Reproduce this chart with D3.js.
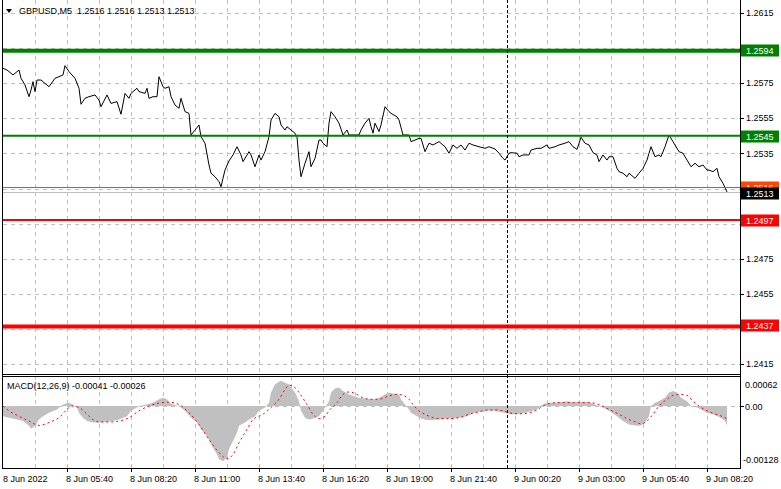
<!DOCTYPE html>
<html><head><meta charset="utf-8">
<script src="https://cdn.jsdelivr.net/npm/d3@7"></script>
<style>
body{margin:0;background:#fff}
svg{display:block}
text{font-family:"Liberation Sans",Arial,sans-serif;font-size:9px;fill:#000}
</style></head>
<body><svg id="c" width="781" height="489"></svg>
<script>
// ---------- DATA ----------
const symbolTitle = "GBPUSD,M5  1.2516 1.2516 1.2513 1.2513";
const macdTitle = "MACD(12,26,9) -0.00041 -0.00026";

// bar offsets (5-minute bars from 8 Jun 2022 03:00) and close prices
const priceBars = [
  0,2,3,5,6,8,9,11,13,14, 15,16,17,19,23,26,28,30,31,33,
  36,38,39,41,43,46,48,49,52,54, 57,59,61,63,64,67,68,71,72,73,
  75,77,78,80,81,83,84,86,88,89, 91,93,94,96,98,99,101,103,104,106,
  108,109,110,111,113,115,117,119,120,123, 124,126,128,129,131,133,134,136,138,139,
  141,142,144,146,147,148,149,151,153,154, 156,158,159,160,162,163,164,166,168,170,
  172,173,178,179,181,183,184,185,186,188, 189,191,193,194,197,198,200,203,204,206,
  208,209,211,213,215,218,221,223,225,227, 229,231,233,235,238,241,243,246,248,250,
  251,253,254,257,258,260,263,264,267,269, 272,273,276,278,281,283,285,287,289,291,
  293,295,297,298,300,302,303,305,307,308, 310,312,313,316,318,320,322,323,324,326,
  328,329,331,333,335,336,338,340,342,344, 346,348,350,352,353,355,357,358,360,362
];
const closes = [
  1.25835,1.25825,1.25816,1.25797,1.25806,1.25825,1.25778,1.25740,1.25673,1.25711,
  1.25759,1.25702,1.25768,1.25768,1.25730,1.25778,1.25787,1.25797,1.25850,1.25816,
  1.25778,1.25721,1.25630,1.25664,1.25673,1.25683,1.25654,1.25616,1.25683,1.25635,
  1.25645,1.25573,1.25692,1.25664,1.25692,1.25721,1.25702,1.25692,1.25721,1.25664,
  1.25673,1.25673,1.25787,1.25730,1.25721,1.25730,1.25673,1.25626,1.25607,1.25664,
  1.25588,1.25578,1.25455,1.25483,1.25512,1.25445,1.25408,1.25284,1.25237,1.25217,
  1.25189,1.25160,1.25208,1.25255,1.25307,1.25341,1.25388,1.25341,1.25303,1.25360,
  1.25341,1.25274,1.25341,1.25312,1.25360,1.25445,1.25540,1.25578,1.25559,1.25512,
  1.25483,1.25502,1.25483,1.25465,1.25445,1.25312,1.25217,1.25294,1.25360,1.25274,
  1.25322,1.25426,1.25426,1.25408,1.25388,1.25522,1.25588,1.25559,1.25522,1.25455,
  1.25483,1.25455,1.25455,1.25483,1.25522,1.25550,1.25502,1.25465,1.25522,1.25474,
  1.25512,1.25616,1.25588,1.25578,1.25559,1.25540,1.25455,1.25455,1.25417,1.25426,
  1.25436,1.25436,1.25360,1.25408,1.25398,1.25417,1.25388,1.25351,1.25398,1.25379,
  1.25398,1.25369,1.25408,1.25398,1.25388,1.25379,1.25388,1.25375,1.25351,1.25322,
  1.25312,1.25351,1.25354,1.25351,1.25331,1.25341,1.25341,1.25369,1.25379,1.25379,
  1.25398,1.25379,1.25388,1.25398,1.25408,1.25417,1.25388,1.25373,1.25442,1.25408,
  1.25398,1.25354,1.25341,1.25303,1.25341,1.25312,1.25331,1.25331,1.25265,1.25246,
  1.25237,1.25217,1.25237,1.25208,1.25237,1.25265,1.25312,1.25351,1.25388,1.25331,
  1.25341,1.25331,1.25388,1.25455,1.25417,1.25398,1.25360,1.25351,1.25312,1.25274,
  1.25294,1.25274,1.25284,1.25255,1.25255,1.25246,1.25265,1.25217,1.25180,1.25130
];

// MACD histogram (main line) key points
const macdBars = [
  0,3,7,10,13,14,16,18,20,23, 27,30,33,35,37,38,40,42,45,48,
  52,55,58,62,64,67,68,72,75,78, 80,82,83,85,87,89,92,94,97,99,
  102,104,107,108,110,112,113,115,117,118, 121,123,126,128,131,133,134,136,138,139,
  141,143,144,146,148,149,151,153,155,158, 160,163,164,166,168,170,173,175,178,182,
  185,187,190,193,195,198,199,201,203,204, 207,209,212,215,218,222,225,228,232,235,
  238,242,245,248,252,254,257,260,263,267, 269,272,275,278,282,285,288,292,294,297,
  300,303,307,310,313,317,319,321,323,324, 326,328,331,333,335,337,339,342,344,347,
  349,352,355,358,361,362
];
const macdValues = [
  -0.00021,-0.00024,-0.00028,-0.00031,-0.00041,-0.00047,-0.00041,-0.00028,-0.00021,-0.00014,
  -0.00007,0.00003,0.00007,0.00003,-0.00003,-0.00014,-0.00024,-0.00031,-0.00034,-0.00034,
  -0.00033,-0.00031,-0.00028,-0.00021,-0.00010,-0.00003,0.00000,0.00003,0.00007,0.00014,
  0.00017,0.00014,0.00007,0.00003,0.00001,-0.00003,-0.00014,-0.00024,-0.00034,-0.00048,
  -0.00062,-0.00079,-0.00100,-0.00110,-0.00114,-0.00107,-0.00089,-0.00072,-0.00055,-0.00041,
  -0.00034,-0.00028,-0.00021,-0.00010,-0.00003,0.00007,0.00028,0.00045,0.00050,0.00052,
  0.00048,0.00045,0.00038,0.00028,0.00010,-0.00010,-0.00024,-0.00028,-0.00026,-0.00021,
  -0.00010,0.00010,0.00028,0.00036,0.00038,0.00031,0.00024,0.00021,0.00017,0.00015,
  0.00014,0.00015,0.00021,0.00028,0.00026,0.00024,0.00014,0.00003,-0.00007,-0.00014,
  -0.00021,-0.00026,-0.00029,-0.00029,-0.00028,-0.00026,-0.00026,-0.00024,-0.00021,-0.00015,
  -0.00012,-0.00010,-0.00010,-0.00012,-0.00015,-0.00017,-0.00017,-0.00015,-0.00012,-0.00007,
  0.00001,0.00007,0.00007,0.00008,0.00010,0.00008,0.00009,0.00009,0.00007,0.00001,
  -0.00003,-0.00010,-0.00021,-0.00031,-0.00038,-0.00041,-0.00040,-0.00034,-0.00021,0.00000,
  0.00007,0.00010,0.00017,0.00028,0.00031,0.00028,0.00017,0.00010,0.00000,-0.00003,
  -0.00007,-0.00014,-0.00017,-0.00022,-0.00031,-0.00041
];

// MACD signal line key points
const signalBars = [
  0,3,8,13,18,23,28,32,34,38, 42,45,48,53,58,63,68,73,78,83,
  88,93,98,103,108,112,115,118,122,125, 130,134,138,141,143,146,148,152,155,158,
  161,163,167,170,173,177,180,183,188,193, 197,200,203,205,208,212,215,218,223,228,
  233,238,243,247,250,253,257,260,263,267, 270,273,278,283,288,293,298,303,308,313,
  317,319,322,325,328,332,335,338,342,345, 348,352,355,358,362
];
const signalValues = [
  0.00000,-0.00010,-0.00021,-0.00031,-0.00040,-0.00034,-0.00024,-0.00007,0.00000,-0.00003,
  -0.00017,-0.00028,-0.00033,-0.00033,-0.00031,-0.00024,-0.00010,0.00000,0.00006,0.00008,
  0.00003,-0.00014,-0.00038,-0.00069,-0.00096,-0.00109,-0.00100,-0.00076,-0.00048,-0.00028,
  -0.00017,-0.00003,0.00014,0.00034,0.00043,0.00038,0.00028,0.00003,-0.00017,-0.00026,
  -0.00021,-0.00010,0.00007,0.00024,0.00029,0.00024,0.00017,0.00014,0.00014,0.00021,
  0.00024,0.00022,0.00014,0.00003,-0.00010,-0.00019,-0.00024,-0.00026,-0.00026,-0.00024,
  -0.00017,-0.00012,-0.00008,-0.00008,-0.00010,-0.00014,-0.00016,-0.00016,-0.00014,-0.00008,
  0.00000,0.00005,0.00007,0.00007,0.00007,0.00007,0.00003,-0.00007,-0.00017,-0.00028,
  -0.00034,-0.00037,-0.00031,-0.00017,0.00000,0.00014,0.00022,0.00024,0.00022,0.00010,
  0.00000,-0.00010,-0.00015,-0.00019,-0.00026
];

// price scale ticks and time axis ticks
const priceTicks = [1.2415,1.2435,1.2455,1.2475,1.2495,1.2515,1.2535,1.2555,1.2575,1.2595,1.2615];
const macdTicks = [0.00062, 0.00, -0.00128];
const macdTickLabels = ["0.00062", "0.00", "-0.00128"];
const timeTickBars = [0,32,64,96,128,160,192,224,256,288,320,352];
const timeTickLabels = ["8 Jun 2022","8 Jun 05:40","8 Jun 08:20","8 Jun 11:00","8 Jun 13:40","8 Jun 16:20",
  "8 Jun 19:00","8 Jun 21:40","9 Jun 00:20","9 Jun 03:00","9 Jun 05:40","9 Jun 08:20"];
const daySeparatorBar = 252;

// horizontal levels
const levelPrices = [1.2594, 1.2545, 1.2497, 1.2437];
const levelColors = ["#008000", "#008000", "#ff0000", "#ff0000"];
const levelWidths = [4, 2, 2, 4];
const bidPrice = 1.2516, askPrice = 1.2513;

// ---------- CHART ----------
const svg = d3.select("#c");
const L = 3, R = 740;
const mainTop = 0, mainBot = 374, macdTop = 376, macdBot = 468;
const t0 = new Date(2022, 5, 8, 3, 0);
const barTime = i => new Date(t0.getTime() + i * 300000);
const x = d3.scaleTime().domain([t0, barTime(362)]).range([3, 727]);
const y = d3.scaleLinear().domain([1.2415, 1.2615]).range([364, 13]);
const ym = d3.scaleLinear().domain([-0.00128, 0.00062]).range([macdBot, macdTop]);
const GRID = "#c0c0c0";

// vertical grid lines every 16 bars
const vgrid = d3.range(16, 368, 16).filter(i => x(barTime(i)) < R - 1);
[[mainTop, mainBot], [macdTop, macdBot]].forEach(([a, b]) => {
  svg.append("g").selectAll("line").data(vgrid).join("line")
    .attr("x1", i => Math.round(x(barTime(i))) + 0.5).attr("x2", i => Math.round(x(barTime(i))) + 0.5)
    .attr("y1", a).attr("y2", b)
    .attr("stroke", GRID).attr("stroke-dasharray", "4,4");
});
// horizontal grid main
svg.append("g").selectAll("line").data(priceTicks).join("line")
  .attr("x1", L).attr("x2", R)
  .attr("y1", d => Math.round(y(d)) + 0.5).attr("y2", d => Math.round(y(d)) + 0.5)
  .attr("stroke", GRID).attr("stroke-dasharray", "4,4");
// macd zero grid
svg.append("line").attr("x1", L).attr("x2", R)
  .attr("y1", Math.round(ym(0)) + 0.5).attr("y2", Math.round(ym(0)) + 0.5)
  .attr("stroke", GRID).attr("stroke-dasharray", "4,4");

// price line
const pts = priceBars.map((b, k) => ({t: barTime(b), v: closes[k]}));
svg.append("path").datum(pts)
  .attr("d", d3.line().x(d => x(d.t)).y(d => y(d.v)))
  .attr("fill", "none").attr("stroke", "#000").attr("stroke-width", 1);

// bid / ask lines
svg.append("line").attr("x1", L).attr("x2", R)
  .attr("y1", Math.round(y(askPrice)) + 0.5).attr("y2", Math.round(y(askPrice)) + 0.5)
  .attr("stroke", "#c0c0c0");
svg.append("line").attr("x1", L).attr("x2", R)
  .attr("y1", Math.round(y(bidPrice)) + 0.5).attr("y2", Math.round(y(bidPrice)) + 0.5)
  .attr("stroke", "#ff4500");

// levels
svg.append("g").selectAll("line").data(levelPrices).join("line")
  .attr("x1", L).attr("x2", R)
  .attr("y1", (d, i) => y(d) + (levelWidths[i] > 2 ? 1 : 0)).attr("y2", (d, i) => y(d) + (levelWidths[i] > 2 ? 1 : 0))
  .attr("stroke", (d, i) => levelColors[i]).attr("stroke-width", (d, i) => levelWidths[i]);

// MACD histogram
const hist = macdBars.map((b, k) => ({t: barTime(b), v: macdValues[k]}));
svg.append("path").datum(hist)
  .attr("d", d3.area().x(d => x(d.t)).y0(ym(0)).y1(d => ym(d.v)))
  .attr("fill", "#c0c0c0");
// signal line
const sig = signalBars.map((b, k) => ({t: barTime(b), v: signalValues[k]}));
svg.append("path").datum(sig)
  .attr("d", d3.line().curve(d3.curveMonotoneX).x(d => x(d.t)).y(d => ym(d.v)))
  .attr("fill", "none").attr("stroke", "#ff0000").attr("stroke-width", 1).attr("stroke-dasharray", "2,3");

// day separator
const sx = Math.round(x(barTime(daySeparatorBar))) + 0.5;
svg.append("line").attr("x1", sx).attr("x2", sx).attr("y1", mainTop).attr("y2", macdBot)
  .attr("stroke", "#000").attr("stroke-dasharray", "3,2");

// frames
const frame = svg.append("g").attr("stroke", "#000").attr("fill", "none");
frame.append("line").attr("x1", 2.5).attr("x2", 2.5).attr("y1", 0).attr("y2", macdBot + 1);
frame.append("line").attr("x1", R + 0.5).attr("x2", R + 0.5).attr("y1", 0).attr("y2", macdBot + 1);
frame.append("line").attr("x1", 2).attr("x2", R + 1).attr("y1", mainBot + 0.5).attr("y2", mainBot + 0.5);
frame.append("line").attr("x1", 2).attr("x2", R + 1).attr("y1", macdTop + 0.5).attr("y2", macdTop + 0.5);
frame.append("line").attr("x1", 2).attr("x2", R + 1).attr("y1", macdBot + 0.5).attr("y2", macdBot + 0.5);

// colored price boxes (levels, bid, ask)
const boxPrices = [1.2594, 1.2545, bidPrice, askPrice, 1.2497, 1.2437];
const boxColors = ["#008000", "#008000", "#ff4500", "#000000", "#ff0000", "#ff0000"];

// price axis ticks + labels (labels hidden under a coloured box are not drawn)
const pa = svg.append("g");
pa.selectAll("line").data(priceTicks).join("line")
  .attr("x1", R).attr("x2", R + 4)
  .attr("y1", d => Math.round(y(d)) + 0.5).attr("y2", d => Math.round(y(d)) + 0.5)
  .attr("stroke", "#000");
const visibleTicks = priceTicks.filter(t => boxPrices.every(b => Math.abs(y(t) - y(b)) > 11));
pa.selectAll("text").data(visibleTicks).join("text")
  .attr("x", 746).attr("y", d => y(d)).attr("dy", "0.35em")
  .text(d => d3.format(".4f")(d));

const bg = svg.append("g").selectAll("g").data(boxPrices).join("g");
bg.append("rect").attr("x", 741).attr("width", 38).attr("height", 12)
  .attr("y", (d, i) => Math.round(y(d)) - 5.5 + (i === 3 ? 1 : 0)).attr("fill", (d, i) => boxColors[i]);
bg.append("text").attr("x", 746).attr("y", (d, i) => Math.round(y(d)) + 0.5 + (i === 3 ? 1 : 0)).attr("dy", "0.35em")
  .style("fill", "#fff").text(d => d3.format(".4f")(d));

// MACD axis
svg.append("line")
  .attr("x1", R).attr("x2", R + 4).attr("y1", Math.round(ym(0)) + 0.5).attr("y2", Math.round(ym(0)) + 0.5)
  .attr("stroke", "#000");
svg.append("g").selectAll("text").data(macdTicks).join("text")
  .attr("x", d => d < 0 ? 743 : 745)
  .attr("y", (d, i) => i === 0 ? ym(d) + 12 : (i === 2 ? ym(d) - 5 : ym(d) + 3.5))
  .text((d, i) => macdTickLabels[i]);

// time axis
const ta = svg.append("g");
ta.selectAll("line").data(timeTickBars.slice(1)).join("line")
  .attr("x1", i => Math.round(x(barTime(i))) + 0.5).attr("x2", i => Math.round(x(barTime(i))) + 0.5)
  .attr("y1", macdBot).attr("y2", macdBot + 4).attr("stroke", "#000");
ta.selectAll("text").data(timeTickBars).join("text")
  .attr("x", (i, k) => k === 0 ? 3 : Math.round(x(barTime(i))) - 1)
  .attr("y", 482)
  .text((i, k) => timeTickLabels[k]);

// titles
svg.append("path").attr("d", "M6,9L12,9L9,13Z").attr("fill", "#000");
svg.append("text").attr("x", 19).attr("y", 14).style("white-space", "pre").text(symbolTitle);
svg.append("text").attr("x", 7).attr("y", 389).text(macdTitle);
</script></body></html>
